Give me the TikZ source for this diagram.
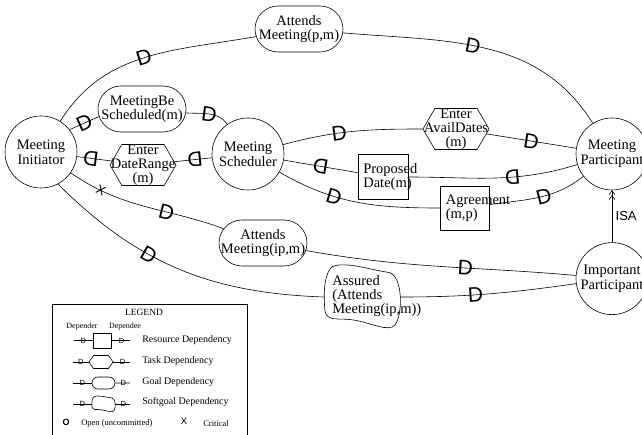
\documentclass[tikz,border=0pt]{standalone}
\usepackage{fontspec}
\setmainfont{Liberation Serif}
\setsansfont{Liberation Sans}
\usetikzlibrary{positioning,shapes.misc,shapes.symbols,arrows.meta}

\tikzset{
  softgoal/.pic={
    \draw (-0.75,0.9) .. controls (-0.4,1.05) and (0.2,0.8) .. (0.7,0.72)
      .. controls (1.05,0.6) and (1.05,-0.5) .. (0.85,-0.82)
      .. controls (0.7,-1.05) and (0.2,-0.75) .. (-0.2,-0.68)
      .. controls (-0.6,-0.6) and (-0.9,-0.75) .. (-0.95,-0.4)
      .. controls (-1.0,0.2) and (-0.95,0.75) .. cycle;
  }
}

\begin{document}
\begin{tikzpicture}[x=1pt,y=1pt,line width=0.6pt,
  actor/.style={circle,draw,minimum size=72pt,inner sep=0pt,align=center,font=\fontsize{14.5}{15}\selectfont},
  goal/.style={rounded rectangle,draw,minimum width=88pt,minimum height=46pt,inner sep=0pt},
  task/.style={signal,signal to=east and west,signal pointer angle=120,draw,minimum width=66pt,minimum height=41pt,inner sep=0pt},
  res/.style={rectangle,draw,minimum width=50pt,minimum height=45pt,inner sep=0pt},
  txt/.style={label={[align=center,font=\fontsize{14.5}{14}\selectfont]center:{#1}}},
  ltext/.style={label={[align=left,anchor=west,xshift=2pt,font=\fontsize{14.5}{14}\selectfont]west:{#1}}},
  dep/.style={sloped,allow upside down,font=\sffamily\fontsize{21}{21}\selectfont,inner sep=0pt},
  ldep/.style={font=\sffamily\fontsize{7.5}{7.5}\selectfont,inner sep=0pt},
  ltxt/.style={anchor=west,inner sep=0pt,font=\fontsize{10}{10}\selectfont}]

  \useasboundingbox (0,0) rectangle (642,-435);

  % actors
  \node[actor] (ini) at (41,-152) {Meeting\\Initiator};
  \node[actor] (sch) at (248,-154) {Meeting\\Scheduler};
  \node[actor] (par) at (612,-154) {Meeting\\Participant};
  \node[actor,below=52pt of par] (imp) {Important\\Participant};

  % dependums
  \node[goal,txt={Attends\\Meeting(p,m)}] (apm) at (299,-29) {};
  \node[goal,txt={MeetingBe\\Scheduled(m)}] (mbs) at (142,-109) {};
  \node[task,txt={Enter\\DateRange\\(m)}] (edr) at (143,-165) {};
  \node[task,txt={Enter\\AvailDates\\(m)}] (ead) at (456,-129) {};
  \node[res,ltext={Proposed\\Date(m)}] (pd) at (383,-177) {};
  \node[res,minimum width=49pt,minimum height=44pt,ltext={Agreement\\(m,p)}] (agr) at (465,-208) {};
  \node[goal,txt={Attends\\Meeting(ip,m)}] (aip) at (263,-243) {};
  \node[minimum width=76pt,minimum height=60pt] (asd) at (362,-297) {};
  \pic[xscale=39,yscale=34] at (asd) {softgoal};
  \node[anchor=west,inner sep=0pt,align=left,font=\fontsize{14.5}{14}\selectfont] (asdtxt) at (332,-296) {Assured\\(Attends\\Meeting(ip,m))};

  % dependencies
  \draw (ini) to[out=58,in=190] node[dep,pos=.5]{D} (apm);
  \draw (apm) to[out=-5,in=122] node[dep,pos=.45]{D} (par);
  \draw (ini.38) -- node[dep]{D} (mbs.190);
  \draw (mbs) to[out=-5,in=125] node[dep,pos=.5]{D} (sch);
  \draw (sch) -- node[dep,pos=.45]{D} (edr);
  \draw (edr) -- node[dep,pos=.6]{D} (ini);
  \draw (sch) to[out=15,in=180] node[dep,pos=.4]{D} (ead);
  \draw (ead) -- node[dep]{D} (par);
  \draw (par) to[out=197,in=0] node[dep,pos=.38]{D} (pd);
  \draw (pd) -- node[dep]{D} (sch);
  \draw (sch) to[out=-30,in=180] node[dep,pos=.35]{D} (agr);
  \draw (agr) to[out=8,in=218] node[dep,pos=.55]{D} (par);
  \draw (ini) to[out=-35,in=160] node[sloped,pos=.2,inner sep=0pt,font=\sffamily\fontsize{13}{13}\selectfont]{X} node[dep,pos=.65]{D} (aip);
  \draw (aip) to[out=-10,in=175] node[dep,pos=.6]{D} (imp);
  \draw (ini.-62) to[out=-45,in=178] node[dep,pos=.38]{D} (asd.west);
  \draw (asd.east) to[out=0,in=188] node[dep,pos=.42]{D} (imp);

  \draw[-{Straight Barb[length=4pt,width=6pt]Straight Barb[length=4pt,width=6pt]}] (imp) -- node[right,font=\sffamily\fontsize{13}{13}\selectfont]{ISA} (par);

  % legend
  \draw (52,-437) |- (247,-304) -- (247,-437);
  \node[font=\fontsize{9.5}{9.5}\selectfont] (leg) at (144,-312) {LEGEND};
  \node[font=\fontsize{8}{8}\selectfont] (dpr) at (82,-327) {Depender};
  \node[font=\fontsize{8}{8}\selectfont] (dpe) at (125,-327) {Dependee};

  \node[draw,minimum width=18pt,minimum height=15pt,inner sep=0pt] (lres) at (102,-340.5) {};
  \node[signal,signal to=east and west,signal pointer angle=110,draw,minimum width=24pt,minimum height=13pt,inner sep=0pt] (ltsk) at (101,-362) {};
  \node[rounded rectangle,draw,minimum width=23pt,minimum height=12pt,inner sep=0pt] (lgol) at (103.5,-383) {};
  \node[minimum width=23pt,minimum height=16pt,inner sep=0pt] (lsft) at (103.5,-404) {};
  \pic[xscale=12,yscale=8.5] at (lsft) {softgoal};

  \coordinate (lresL) at (74,-340.5); \coordinate (lresR) at (130,-340.5);
  \coordinate (ltskL) at (73,-362);   \coordinate (ltskR) at (130,-362);
  \coordinate (lgolL) at (73,-383);   \coordinate (lgolR) at (130,-383);
  \coordinate (lsftL) at (73,-404);   \coordinate (lsftR) at (130,-404);

  \draw (lresL) -- node[ldep]{D} (lres);  \draw (lres) -- node[ldep,pos=.55]{D} (lresR);
  \draw (ltskL) -- node[ldep]{D} (ltsk);  \draw (ltsk) -- node[ldep,pos=.55]{D} (ltskR);
  \draw (lgolL) -- node[ldep]{D} (lgol);  \draw (lgol) -- node[ldep,pos=.55]{D} (lgolR);
  \draw (lsftL) -- node[ldep]{D} (lsft.west);  \draw (lsft.east) -- node[ldep,pos=.55]{D} (lsftR);

  \node[ltxt] (lrest) at (142,-340) {Resource Dependency};
  \node[ltxt] (ltskt) at (142,-361) {Task Dependency};
  \node[ltxt] (lgolt) at (142,-382) {Goal Dependency};
  \node[ltxt] (lsftt) at (142,-402) {Softgoal Dependency};

  \node[font=\sffamily\bfseries\fontsize{9}{9}\selectfont] (lopn) at (66,-422) {O};
  \node[anchor=west,inner sep=0pt,font=\fontsize{8.5}{8.5}\selectfont] (lopnt) at (81,-423) {Open (uncommitted)};
  \node[font=\sffamily\fontsize{9.5}{9.5}\selectfont] (lcrt) at (184,-421) {X};
  \node[anchor=west,inner sep=0pt,font=\fontsize{8.5}{8.5}\selectfont] (lcrtt) at (203,-424) {Critical};

\end{tikzpicture}
\end{document}
